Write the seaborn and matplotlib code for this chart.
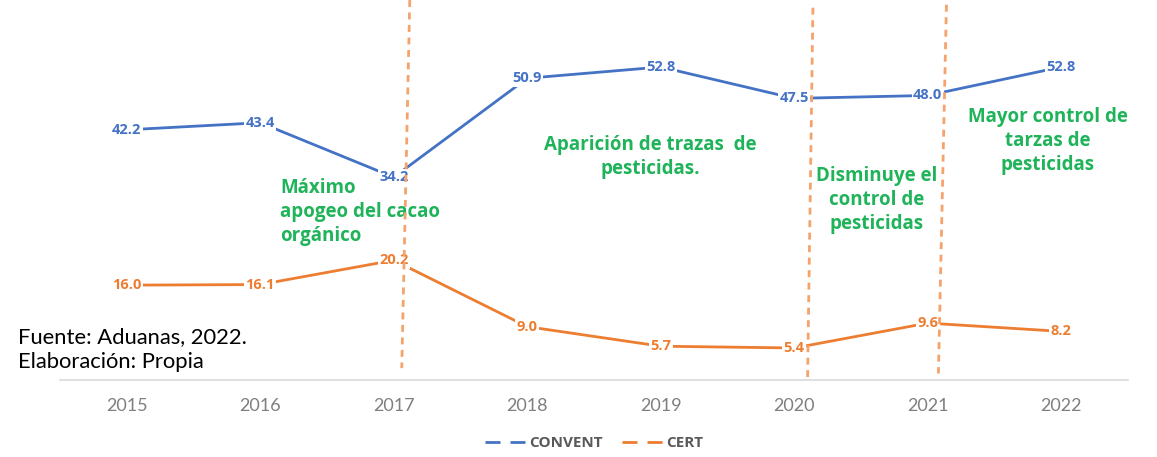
import pandas as pd
import seaborn as sns
import matplotlib.pyplot as plt
from matplotlib.lines import Line2D

# Data
years = ['2015', '2016', '2017', '2018', '2019', '2020', '2021', '2022']
convent = [42.2, 43.4, 34.2, 50.9, 52.8, 47.5, 48.0, 52.8]
cert = [16.0, 16.1, 20.2, 9.0, 5.7, 5.4, 9.6, 8.2]
series = ['CONVENT', 'CERT']
colors = ['#4472C4', '#ED7D31']

df = pd.DataFrame({
    'Año': years * 2,
    'Valor': convent + cert,
    'Serie': [series[0]] * len(years) + [series[1]] * len(years),
})

sns.set_style('white')
plt.rcParams['font.family'] = ['Lato', 'DejaVu Sans']
bold_font = ['Open Sans', 'DejaVu Sans']

fig = plt.figure(figsize=(11.57, 4.57), dpi=100)
ax = fig.add_axes([60 / 1157, 77 / 457, 1068 / 1157, 380 / 457])

sns.lineplot(data=df, x='Año', y='Valor', hue='Serie', palette=colors,
             linewidth=2.0, ax=ax, legend=False, zorder=2)

# Data labels sitting on the line (white box breaks the line like Excel)
for vals, c in zip([convent, cert], colors):
    for i, v in enumerate(vals):
        ax.text(i, v, f'{v:.1f}', ha='center', va='center', color=c,
                fontsize=10.5, fontweight='bold', family=bold_font, zorder=3,
                bbox=dict(facecolor='white', edgecolor='none', pad=1.0))

# Dashed orange separators (slightly slanted in the original)
separators = [(2.12, 2.06, 64.1, 2.0), (5.14, 5.10, 62.8, 0.5), (6.14, 6.08, 63.3, 1.1)]
for x0, x1, y0, y1 in separators:
    ax.plot([x0, x1], [y0, y1], color='#F4A36C', lw=2.0,
            linestyle=(0, (2.5, 2.0)), zorder=4, clip_on=False)

green = '#1FB35A'
note = dict(color=green, fontsize=13.5, fontweight='bold', family=bold_font,
            linespacing=1.25, va='center')
ax.text(1.15, 28.3, 'Máximo\napogeo del cacao\norgánico', ha='left', **note)
ax.text(3.92, 37.6, 'Aparición de trazas  de\npesticidas.', ha='center', **note)
ax.text(5.62, 30.4, 'Disminuye el\ncontrol de\npesticidas', ha='center', **note)
ax.text(6.90, 40.3, 'Mayor control de\ntarzas de\npesticidas', ha='center',
        clip_on=True, **note)

ax.set_xlim(-0.5, len(years) - 0.5)
ax.set_ylim(0, 64.1)
ax.set_yticks([])
ax.set_xlabel('')
ax.set_ylabel('')
ax.tick_params(axis='x', length=0, pad=13, labelsize=13, labelcolor='#7f7f7f')
for s in ['top', 'left', 'right']:
    ax.spines[s].set_visible(False)
ax.spines['bottom'].set_color('#d9d9d9')
ax.spines['bottom'].set_linewidth(1.2)

handles = [Line2D([], [], color=c, lw=2.0, linestyle=(0, (5.4, 3.6))) for c in colors]
ax.legend(handles, series, loc='center', bbox_to_anchor=(0.5, -0.166), ncol=2,
          frameon=False, handlelength=2.8, handletextpad=0.1, columnspacing=1.3,
          prop=dict(family=bold_font, weight='bold', size=11), labelcolor='#595959')

fig.text(18 / 1157, 1 - 337 / 457, 'Fuente: Aduanas, 2022.', fontsize=15.8,
         ha='left', va='center', color='black')
fig.text(18 / 1157, 1 - 362 / 457, 'Elaboración: Propia', fontsize=15.8,
         ha='left', va='center', color='black')

fig.savefig('out.png', dpi=100)
